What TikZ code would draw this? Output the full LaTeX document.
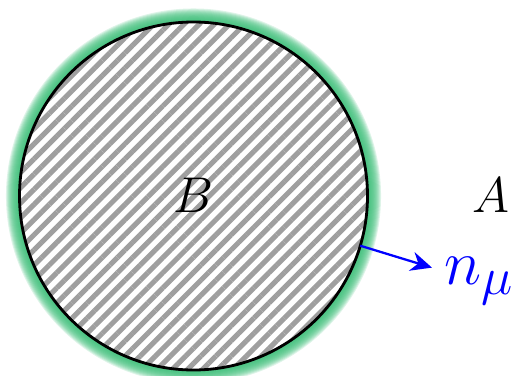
\documentclass[tikz,border=0pt]{standalone}
\usepackage{amsmath,amssymb}
\usepackage{xcolor}
\usepackage{tikz}
\usetikzlibrary{patterns.meta,arrows.meta,positioning,calc}

\definecolor{glowgreen}{RGB}{60,190,120}
\tikzset{biglabel/.style={font=\Huge, scale=1.15}}

\begin{document}
\begin{tikzpicture}
			\useasboundingbox (0,0) rectangle (10.28,7.5);
			\coordinate (c) at (3.87,3.58);
		
			% glow
			\foreach \w in {1,...,14}
				\draw[glowgreen, line width=\w*1.1pt, opacity=0.17] (c) circle (3.48);
			\fill[white] (c) circle (3.48);
			\fill[pattern={Lines[angle=45,distance=6.1pt,line width=2.9pt]}, pattern color=gray!75] (c) circle (3.48);
			\draw[line width=1.6pt] (c) circle (3.48);
		
			\node[biglabel] (B) at (3.86,3.6) {$B$};
			\node[biglabel] (A) at (9.82,3.6) {$A$};
		
			\coordinate (foot) at ($(c)+(-16.6:3.48)$);
			\coordinate (tip) at ($(foot)+(-17:1.5)$);
			\draw[blue, line width=1.3pt, -{Stealth[length=12pt,width=11pt]}] (foot) -- (tip);
			\node[font=\Huge, scale=1.45, blue, anchor=base west, inner sep=0pt] (n) at ($(tip)+(0.24,-0.34)$) {$n_\mu$};
		\end{tikzpicture}
\end{document}
